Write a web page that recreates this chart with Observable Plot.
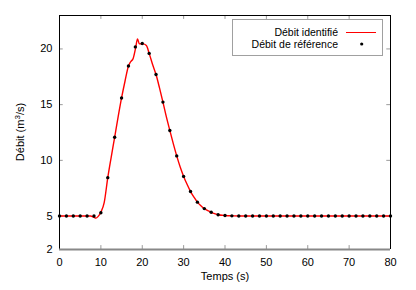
<!DOCTYPE html>
<html>
<head>
<meta charset="utf-8">
<script src="https://cdn.jsdelivr.net/npm/d3@7"></script>
<script src="https://cdn.jsdelivr.net/npm/@observablehq/plot@0.6"></script>
<style>
  body { margin: 0; background: #fff; }
  #chart { width: 416px; height: 290px; }
</style>
</head>
<body>
<div id="chart"></div>
<script>
// Reference discharge (points)
const refTimes = [0, 1.667, 3.333, 5, 6.667, 8.333, 10, 11.667, 13.333, 15, 16.667, 18.333, 20, 21.667, 23.333, 25, 26.667, 28.333, 30, 31.667, 33.333, 35, 36.667, 38.333, 40, 41.667, 43.333, 45, 46.667, 48.333, 50, 51.667, 53.333, 55, 56.667, 58.333, 60, 61.667, 63.333, 65, 66.667, 68.333, 70, 71.667, 73.333, 75, 76.667, 78.333, 80];
const refValues = [5, 5, 5, 5, 5, 5, 5.3, 8.45, 12.07, 15.6, 18.47, 20.18, 20.49, 19.6, 17.7, 15.23, 12.68, 10.4, 8.56, 7.2, 6.25, 5.67, 5.34, 5.12, 5.05, 5.02, 5.01, 5, 5, 5, 5, 5, 5, 5, 5, 5, 5, 5, 5, 5, 5, 5, 5, 5, 5, 5, 5, 5, 5];

// Identified discharge (red line)
const idTimes = [0, 5, 7.5, 8.3, 8.8, 9.3, 10, 10.8, 11.67, 12.5, 13.33, 14.17, 15, 15.83, 16.67, 17.2, 17.8, 18.4, 18.85, 19.3, 20.2, 21, 21.67, 22.5, 23.33, 24.17, 25, 25.83, 26.67, 27.5, 28.33, 29.17, 30, 30.83, 31.67, 32.5, 33.33, 34.17, 35, 35.83, 36.67, 37.5, 38.33, 40, 42, 45, 80];
const idValues = [5, 5, 5, 4.9, 4.82, 4.95, 5.35, 6.2, 8.45, 10.3, 12.07, 13.9, 15.6, 17.1, 18.47, 18.85, 19.15, 20.1, 20.9, 20.45, 20.45, 20.3, 19.6, 18.6, 17.7, 16.5, 15.23, 13.9, 12.68, 11.5, 10.4, 9.4, 8.56, 7.85, 7.2, 6.7, 6.25, 5.92, 5.67, 5.48, 5.34, 5.22, 5.12, 5.05, 5.02, 5, 5];

const xTicks = [0, 10, 20, 30, 40, 50, 60, 70, 80];
const yTicks = [2, 5, 10, 15, 20];
const xDomain = [0, 80];
const yDomain = [2, 23];

const refData = refTimes.map((t, i) => ({t, v: refValues[i]}));
const idData = idTimes.map((t, i) => ({t, v: idValues[i]}));

const font = "'Liberation Sans', Arial, Helvetica, sans-serif";
const tickGray = "#9a9a9a";

const plot = Plot.plot({
  width: 416,
  height: 290,
  marginLeft: 59,
  marginRight: 26,
  marginTop: 15,
  marginBottom: 41,
  style: {fontFamily: font, fontSize: "11px", color: "#000", background: "#fff"},
  x: {domain: xDomain, ticks: xTicks, label: null},
  y: {domain: yDomain, ticks: yTicks, label: null},
  marks: [
    Plot.axisX({ticks: xTicks, tickSize: 0, tickPadding: 9, label: null, tickFormat: d => String(d)}),
    Plot.axisY({ticks: yTicks, tickSize: 0, tickPadding: 7, label: null, tickFormat: d => String(d)}),
    // inward tick marks
    Plot.ruleX(xTicks, {x: d => d, y1: yDomain[0], y2: yDomain[0] + 0.35, stroke: tickGray}),
    Plot.ruleX(xTicks, {x: d => d, y1: yDomain[1] - 0.35, y2: yDomain[1], stroke: tickGray}),
    Plot.ruleY(yTicks, {y: d => d, x1: xDomain[0], x2: xDomain[0] + 0.9, stroke: tickGray}),
    Plot.ruleY(yTicks, {y: d => d, x1: xDomain[1] - 0.9, x2: xDomain[1], stroke: tickGray}),
    // borders
    Plot.ruleX([xDomain[0]], {stroke: "#000"}),
    Plot.ruleX([xDomain[1]], {stroke: "#000"}),
    Plot.ruleY([yDomain[1]], {stroke: "#000"}),
    Plot.ruleY([yDomain[0]], {stroke: "#888", strokeWidth: 2}),
    // data
    Plot.line(idData, {x: "t", y: "v", stroke: "#ff0000", strokeWidth: 1.4, curve: "monotone-x"}),
    Plot.dot(refData, {x: "t", y: "v", r: 1.7, fill: "#000", stroke: "none"})
  ]
});

document.getElementById("chart").appendChild(plot);

const svg = d3.select(plot);
// axis titles
const yl = svg.append("text")
  .attr("transform", "translate(24,132) rotate(-90)")
  .attr("text-anchor", "middle")
  .attr("font-family", font)
  .attr("font-size", 11)
  .attr("fill", "#000");
yl.append("tspan").text("Débit (m");
yl.append("tspan").attr("font-size", 8).attr("dy", -4).text("3");
yl.append("tspan").attr("dy", 4).text("/s)");

svg.append("text")
  .attr("x", 225).attr("y", 280)
  .attr("text-anchor", "middle")
  .attr("font-family", font)
  .attr("font-size", 11)
  .attr("fill", "#000")
  .text("Temps (s)");

// legend
const lg = svg.append("g").attr("font-family", font).attr("font-size", 10.5).attr("fill", "#000");
lg.append("rect").attr("x", 232.5).attr("y", 19.5).attr("width", 150).attr("height", 36)
  .attr("fill", "#fff").attr("stroke", "#a0a0a0");
lg.append("text").attr("x", 338).attr("y", 35.5).attr("text-anchor", "end").text("Débit identifié");
lg.append("line").attr("x1", 346).attr("x2", 376).attr("y1", 32.5).attr("y2", 32.5)
  .attr("stroke", "#ff0000").attr("stroke-width", 1);
lg.append("text").attr("x", 338).attr("y", 47.5).attr("text-anchor", "end").text("Débit de référence");
lg.append("circle").attr("cx", 361.7).attr("cy", 44).attr("r", 1.6).attr("fill", "#000");
</script>
</body>
</html>
